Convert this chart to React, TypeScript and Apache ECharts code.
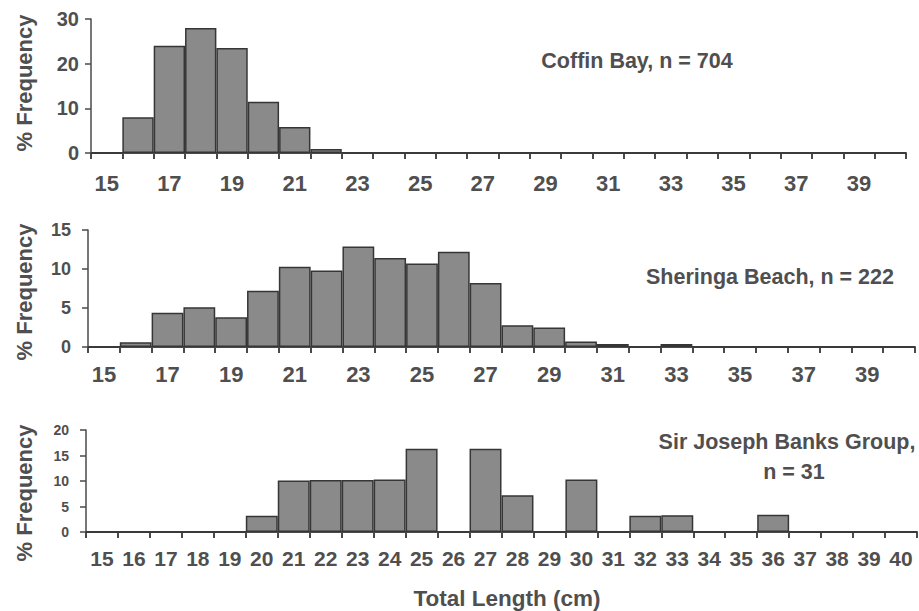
import React, { useEffect, useRef } from "react";
import * as echarts from "echarts";

// Total length bins (cm)
const lengthBins = [
  "15", "16", "17", "18", "19", "20", "21", "22", "23", "24", "25", "26", "27",
  "28", "29", "30", "31", "32", "33", "34", "35", "36", "37", "38", "39", "40",
];

// % frequency per bin, one array per site
const coffinBay = [
  0, 8.0, 24.0, 28.0, 23.5, 11.5, 5.8, 0.9, 0, 0, 0, 0, 0,
  0, 0, 0, 0, 0, 0, 0, 0, 0, 0, 0, 0, 0,
];
const sheringaBeach = [
  0, 0.6, 4.4, 5.1, 3.8, 7.2, 10.3, 9.8, 12.9, 11.4, 10.7, 12.2, 8.2,
  2.8, 2.5, 0.7, 0.4, 0, 0.4, 0, 0, 0, 0, 0, 0, 0,
];
const sirJosephBanks = [
  0, 0, 0, 0, 0, 3.2, 10.1, 10.2, 10.2, 10.3, 16.3, 0, 16.3,
  7.2, 0, 10.3, 0, 3.2, 3.3, 0, 0, 3.4, 0, 0, 0, 0,
];

const siteLabels = ["Coffin Bay, n = 704", "Sheringa Beach, n = 222", "Sir Joseph Banks Group,", "n = 31"];
const yTitle = "% Frequency";
const xTitle = "Total Length (cm)";

const FONT = "'Liberation Sans', Arial, Helvetica, sans-serif";
const AXIS = "#4a4a4a";
const TEXT = "#4f4f4f";

export default function App() {
  const ref = useRef<HTMLDivElement>(null);

  useEffect(() => {
    document.body.style.margin = "0";
    if (!ref.current) return;
    const chart = echarts.init(ref.current, null, { renderer: "svg" });

    const grids = [
      { left: 91, top: 19, width: 815, height: 134 },
      { left: 88, top: 230, width: 827, height: 117 },
      { left: 86, top: 430, width: 831, height: 102 },
    ];
    const yMax = [30, 15, 20];
    const yStep = [10, 5, 5];
    const yFont = [20, 18, 14];
    const yMargin = [12, 17, 17];
    const xLabelInterval = [1, 1, 0];
    const xFont = [22, 22, 21];
    const xMargin = [19, 16, 16];
    const seriesData = [coffinBay, sheringaBeach, sirJosephBanks];

    const xAxis = grids.map((_, i) => ({
      type: "category",
      gridIndex: i,
      data: lengthBins,
      boundaryGap: true,
      axisLine: { show: true, lineStyle: { color: AXIS, width: 2 } },
      axisTick: { show: true, interval: 0, length: 6, lineStyle: { color: AXIS, width: 2 } },
      axisLabel: {
        interval: xLabelInterval[i],
        margin: xMargin[i],
        color: TEXT,
        fontFamily: FONT,
        fontWeight: "bold",
        fontSize: xFont[i],
      },
      splitLine: { show: false },
    }));

    const yAxis = grids.map((_, i) => ({
      type: "value",
      gridIndex: i,
      min: 0,
      max: yMax[i],
      interval: yStep[i],
      axisLine: { show: true, lineStyle: { color: AXIS, width: 1.5 } },
      axisTick: { show: true, length: 6, lineStyle: { color: AXIS, width: 1.5 } },
      axisLabel: {
        margin: yMargin[i],
        color: TEXT,
        fontFamily: FONT,
        fontWeight: "bold",
        fontSize: yFont[i],
      },
      splitLine: { show: false },
    }));

    const series = seriesData.map((d, i) => ({
      type: "bar",
      xAxisIndex: i,
      yAxisIndex: i,
      data: d,
      barCategoryGap: "0%",
      itemStyle: { color: "#8a8a8a", borderColor: "#363636", borderWidth: 1.5 },
      emphasis: { disabled: true },
    }));

    const textStyle = (size: number) => ({
      fill: TEXT,
      font: `bold ${size}px ${FONT}`,
      textAlign: "center",
      textVerticalAlign: "middle",
    });

    const yTitleCenters = [83, 292, 493];

    const graphic: any[] = [
      { type: "text", x: 637, y: 61, style: { ...textStyle(21.5), text: siteLabels[0] } },
      { type: "text", x: 770, y: 277, style: { ...textStyle(21.5), text: siteLabels[1] } },
      { type: "text", x: 787, y: 442, style: { ...textStyle(21.5), text: siteLabels[2] } },
      { type: "text", x: 794, y: 472, style: { ...textStyle(21.5), text: siteLabels[3] } },
      { type: "text", x: 507, y: 598, style: { ...textStyle(22.5), text: xTitle } },
      ...yTitleCenters.map((cy) => ({
        type: "text",
        x: 24,
        y: cy,
        rotation: Math.PI / 2,
        style: { ...textStyle(22), text: yTitle },
      })),
    ];

    chart.setOption({
      animation: false,
      backgroundColor: "#ffffff",
      grid: grids.map((g) => ({ ...g, containLabel: false })),
      xAxis,
      yAxis,
      series,
      graphic,
    });

    return () => chart.dispose();
  }, []);

  return (
    <div
      ref={ref}
      style={{ position: "absolute", left: 0, top: 0, width: 919, height: 611 }}
    />
  );
}
